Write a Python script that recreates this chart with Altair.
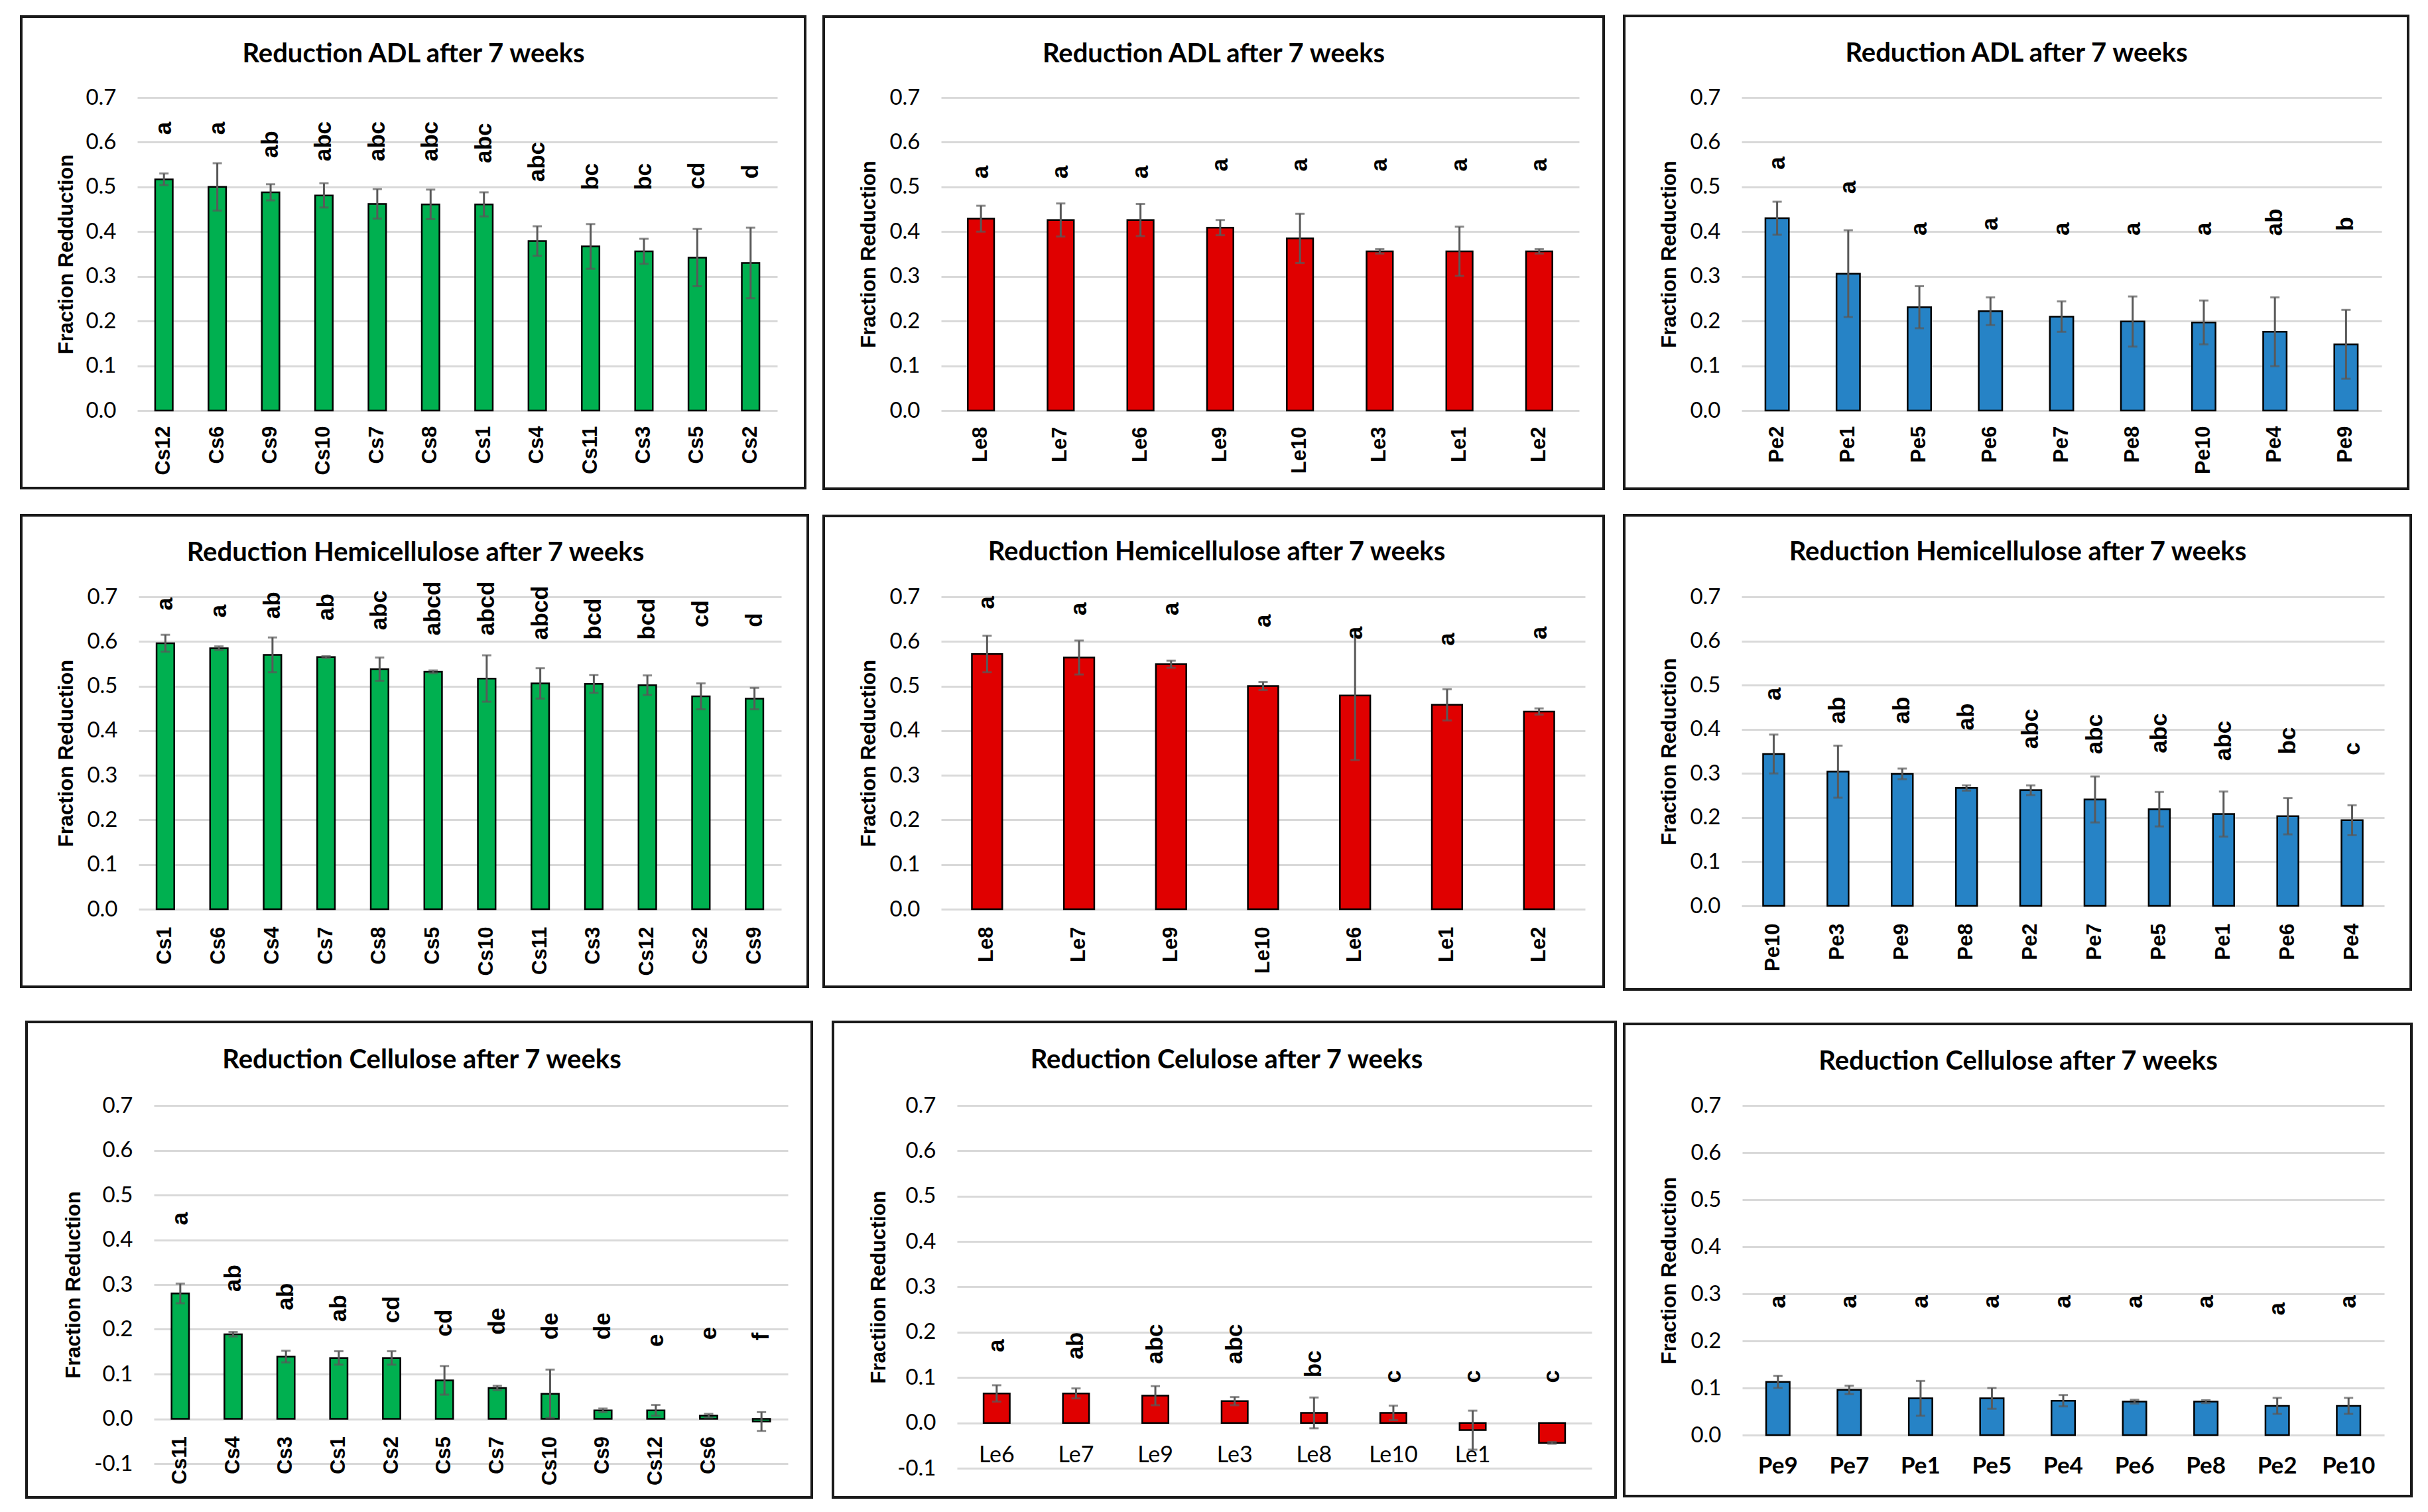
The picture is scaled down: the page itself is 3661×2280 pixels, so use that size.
import altair as alt
import pandas as pd

GREEN = "#00B050"
RED = "#E00000"
BLUE = "#2683C6"

# ---------------- data ----------------
# Row 1: ADL
adl_cs_cat = ["Cs12", "Cs6", "Cs9", "Cs10", "Cs7", "Cs8", "Cs1", "Cs4", "Cs11", "Cs3", "Cs5", "Cs2"]
adl_cs_val = [0.517, 0.500, 0.488, 0.481, 0.462, 0.461, 0.461, 0.379, 0.367, 0.356, 0.342, 0.330]
adl_cs_err = [0.013, 0.053, 0.018, 0.027, 0.033, 0.033, 0.027, 0.033, 0.050, 0.028, 0.064, 0.079]
adl_cs_let = ["a", "a", "ab", "abc", "abc", "abc", "abc", "abc", "bc", "bc", "cd", "d"]
adl_cs_pos = [0.631, 0.631, 0.595, 0.602, 0.602, 0.602, 0.598, 0.556, 0.523, 0.523, 0.525, 0.534]

adl_le_cat = ["Le8", "Le7", "Le6", "Le9", "Le10", "Le3", "Le1", "Le2"]
adl_le_val = [0.429, 0.426, 0.426, 0.409, 0.385, 0.356, 0.356, 0.356]
adl_le_err = [0.029, 0.037, 0.036, 0.017, 0.055, 0.005, 0.055, 0.005]
adl_le_let = ["a", "a", "a", "a", "a", "a", "a", "a"]
adl_le_pos = [0.533, 0.533, 0.533, 0.549, 0.549, 0.549, 0.549, 0.549]

adl_pe_cat = ["Pe2", "Pe1", "Pe5", "Pe6", "Pe7", "Pe8", "Pe10", "Pe4", "Pe9"]
adl_pe_val = [0.430, 0.306, 0.231, 0.222, 0.210, 0.199, 0.197, 0.176, 0.148]
adl_pe_err = [0.037, 0.097, 0.047, 0.031, 0.034, 0.056, 0.049, 0.077, 0.077]
adl_pe_let = ["a", "a", "a", "a", "a", "a", "a", "ab", "b"]
adl_pe_pos = [0.553, 0.499, 0.406, 0.417, 0.406, 0.406, 0.406, 0.421, 0.417]

# Row 2: Hemicellulose
hem_cs_cat = ["Cs1", "Cs6", "Cs4", "Cs7", "Cs8", "Cs5", "Cs10", "Cs11", "Cs3", "Cs12", "Cs2", "Cs9"]
hem_cs_val = [0.596, 0.585, 0.570, 0.565, 0.538, 0.532, 0.517, 0.506, 0.505, 0.502, 0.477, 0.472]
hem_cs_err = [0.019, 0.004, 0.039, 0.002, 0.026, 0.003, 0.052, 0.034, 0.020, 0.022, 0.029, 0.024]
hem_cs_let = ["a", "a", "ab", "ab", "abc", "abcd", "abcd", "abcd", "bcd", "bcd", "cd", "d"]
hem_cs_pos = [0.684, 0.668, 0.681, 0.677, 0.670, 0.674, 0.674, 0.664, 0.650, 0.650, 0.662, 0.648]

hem_le_cat = ["Le8", "Le7", "Le9", "Le10", "Le6", "Le1", "Le2"]
hem_le_val = [0.572, 0.564, 0.549, 0.500, 0.479, 0.458, 0.443]
hem_le_err = [0.041, 0.038, 0.008, 0.009, 0.145, 0.035, 0.007]
hem_le_let = ["a", "a", "a", "a", "a", "a", "a"]
hem_le_pos = [0.687, 0.673, 0.673, 0.646, 0.619, 0.605, 0.619]

hem_pe_cat = ["Pe10", "Pe3", "Pe9", "Pe8", "Pe2", "Pe7", "Pe5", "Pe1", "Pe6", "Pe4"]
hem_pe_val = [0.344, 0.304, 0.299, 0.267, 0.262, 0.241, 0.219, 0.208, 0.203, 0.194]
hem_pe_err = [0.044, 0.059, 0.012, 0.006, 0.011, 0.052, 0.039, 0.051, 0.041, 0.034]
hem_pe_let = ["a", "ab", "ab", "ab", "abc", "abc", "abc", "abc", "bc", "c"]
hem_pe_pos = [0.480, 0.443, 0.443, 0.428, 0.401, 0.389, 0.391, 0.374, 0.374, 0.356]

# Row 3: Cellulose
cel_cs_cat = ["Cs11", "Cs4", "Cs3", "Cs1", "Cs2", "Cs5", "Cs7", "Cs10", "Cs9", "Cs12", "Cs6", " "]
cel_cs_val = [0.280, 0.189, 0.139, 0.136, 0.136, 0.086, 0.069, 0.056, 0.019, 0.019, 0.007, -0.006]
cel_cs_err = [0.022, 0.005, 0.013, 0.015, 0.015, 0.032, 0.005, 0.054, 0.004, 0.012, 0.004, 0.021]
cel_cs_let = ["a", "ab", "ab", "ab", "cd", "cd", "de", "de", "de", "e", "e", "f"]
cel_cs_pos = [0.447, 0.314, 0.273, 0.247, 0.244, 0.214, 0.218, 0.207, 0.207, 0.175, 0.191, 0.184]

cel_le_cat = ["Le6", "Le7", "Le9", "Le3", "Le8", "Le10", "Le1", " "]
cel_le_val = [0.065, 0.065, 0.060, 0.048, 0.022, 0.022, -0.016, -0.044]
cel_le_err = [0.018, 0.011, 0.021, 0.009, 0.034, 0.016, 0.043, 0.002]
cel_le_let = ["a", "ab", "abc", "abc", "bc", "c", "c", "c"]
cel_le_pos = [0.170, 0.170, 0.174, 0.174, 0.130, 0.102, 0.102, 0.102]

cel_pe_cat = ["Pe9", "Pe7", "Pe1", "Pe5", "Pe4", "Pe6", "Pe8", "Pe2", "Pe10"]
cel_pe_val = [0.113, 0.096, 0.078, 0.078, 0.073, 0.071, 0.071, 0.062, 0.062]
cel_pe_err = [0.013, 0.009, 0.037, 0.022, 0.012, 0.004, 0.003, 0.017, 0.017]
cel_pe_let = ["a", "a", "a", "a", "a", "a", "a", "a", "a"]
cel_pe_pos = [0.283, 0.283, 0.283, 0.283, 0.283, 0.283, 0.283, 0.268, 0.283]

TICKS_POS = [0.0, 0.1, 0.2, 0.3, 0.4, 0.5, 0.6, 0.7]
TICKS_NEG = [-0.1, 0.0, 0.1, 0.2, 0.3, 0.4, 0.5, 0.6, 0.7]

TITLE_SHIFT = 42  # empirical correction of title placement


def spacer(w, h):
    return (
        alt.Chart(pd.DataFrame({"s": [0]}))
        .mark_point(opacity=0, size=1)
        .encode(x=alt.value(0), y=alt.value(0))
        .properties(width=w, height=h)
    )


def panel(cats, vals, errs, lets, lpos, color, title, ytitle, L):
    w, h = L["w"], L["h"]
    fl, fr, ft, fb = L["frame"]
    ymin = L["ymin"]
    df = pd.DataFrame({"cat": cats, "val": vals, "err": errs, "let": lets, "lpos": lpos})
    df["lo"] = df["val"] - df["err"]
    df["hi"] = df["val"] + df["err"]

    if L["xstyle"] == "rot":
        xaxis = alt.Axis(
            title=None, domain=False, ticks=False, labelAngle=270, labelAlign="right",
            labelBaseline="middle", labelFont="Liberation Sans", labelFontWeight="bold",
            labelFontSize=31, labelColor="black", labelPadding=L["xpad"], offset=L["xoff"],
            labelLimit=300,
        )
    else:
        xaxis = alt.Axis(
            title=None, domain=False, ticks=False, labelAngle=0, labelAlign="center",
            labelBaseline="top", labelFont="Lato", labelFontWeight=L["xweight"],
            labelFontSize=L["xsize"], labelColor="black", labelPadding=L["xpad"],
            offset=L["xoff"],
        )
    xenc = alt.X("cat:N", sort=cats, scale=alt.Scale(paddingInner=0, paddingOuter=0), axis=xaxis)

    ticks = TICKS_NEG if ymin < 0 else TICKS_POS
    yscale = alt.Scale(domain=[ymin, 0.7], nice=False, zero=False)
    yaxis = alt.Axis(
        values=ticks, labelExpr="replace(format(datum.value, '.1f'), '\u2212', '-')",
        grid=True, gridColor="#D9D9D9", gridWidth=3, domain=False, ticks=False,
        labelFont="Lato", labelFontSize=33, labelColor="black", labelPadding=32,
        title=ytitle, titleFont="Liberation Sans", titleFontWeight="bold", titleFontSize=31,
        titleColor="black", titleX=L["ytx"], titleY=h / 2, titleAngle=270,
        titleAlign="center", titleBaseline="middle",
    )

    base = alt.Chart(df)
    bars = base.mark_bar(
        width=alt.RelativeBandSize(0.33), color=color, stroke="black", strokeWidth=2.5
    ).encode(x=xenc, y=alt.Y("val:Q", scale=yscale, axis=yaxis))
    rules = base.mark_rule(color="#595959", strokeWidth=3).encode(
        x=xenc, y=alt.Y("lo:Q", scale=yscale, axis=yaxis), y2="hi:Q"
    )
    cap_lo = base.mark_tick(color="#595959", size=14, thickness=3).encode(
        x=xenc, y=alt.Y("lo:Q", scale=yscale, axis=yaxis)
    )
    cap_hi = base.mark_tick(color="#595959", size=14, thickness=3).encode(
        x=xenc, y=alt.Y("hi:Q", scale=yscale, axis=yaxis)
    )
    letters = base.mark_text(
        angle=270, align="center", baseline="middle", font="Liberation Sans",
        fontWeight="bold", fontSize=35, color="black",
    ).encode(x=xenc, y=alt.Y("lpos:Q", scale=yscale, axis=yaxis), text="let:N")
    frame = (
        alt.Chart(pd.DataFrame({"k": [0]}))
        .mark_rect(fillOpacity=0, stroke="#1a1a1a", strokeWidth=4)
        .encode(
            x=alt.value(-fl), x2=alt.value(w + fr), y=alt.value(-ft), y2=alt.value(h + fb)
        )
    )
    return alt.layer(frame, bars, rules, cap_lo, cap_hi, letters).properties(
        width=w,
        height=h,
        title=alt.TitleParams(
            text=title, font="Lato", fontWeight="bold", fontSize=40, color="black",
            anchor="middle", frame="group", dx=L["tdx"],
            offset=L["tgap"] - ft - 2 - TITLE_SHIFT,
            baseline="alphabetic",
        ),
    )


def lay(w, h, frame, tdx, tgap, ytx, xstyle="rot", xpad=23, xoff=0, ymin=0.0,
        xweight="normal", xsize=32):
    return dict(w=w, h=h, frame=frame, tdx=tdx, tgap=tgap, ytx=ytx, xstyle=xstyle,
                xpad=xpad, xoff=xoff, ymin=ymin, xweight=xweight, xsize=xsize)


T_ADL = "Reduction ADL after 7 weeks"
T_HEM = "Reduction Hemicellulose after 7 weeks"
T_CEL = "Reduction Cellulose after 7 weeks"
T_CEL2 = "Reduction Celulose after 7 weeks"

p1 = panel(adl_cs_cat, adl_cs_val, adl_cs_err, adl_cs_let, adl_cs_pos, GREEN, T_ADL,
           "Fraction Redduction", lay(965, 472, (175, 42, 122, 117), -66, 55, -107, xpad=23))
p2 = panel(adl_le_cat, adl_le_val, adl_le_err, adl_le_let, adl_le_pos, RED, T_ADL,
           "Fraction Reduction", lay(962, 472, (177, 37, 122, 118), -70, 55, -109, xpad=24))
p3 = panel(adl_pe_cat, adl_pe_val, adl_pe_err, adl_pe_let, adl_pe_pos, BLUE, T_ADL,
           "Fraction Reduction", lay(965, 472, (177, 40, 123, 118), -68, 56, -109, xpad=23))

p4 = panel(hem_cs_cat, hem_cs_val, hem_cs_err, hem_cs_let, hem_cs_pos, GREEN, T_HEM,
           "Fraction Reduction", lay(969, 471, (177, 40, 123, 117), -67, 56, -109, xpad=26))
p5 = panel(hem_le_cat, hem_le_val, hem_le_err, hem_le_let, hem_le_pos, RED, T_HEM,
           "Fraction Reduction", lay(971, 471, (177, 28, 122, 117), -70, 57, -109, xpad=26))
p6 = panel(hem_pe_cat, hem_pe_val, hem_pe_err, hem_pe_let, hem_pe_pos, BLUE, T_HEM,
           "Fraction Reduction", lay(969, 466, (177, 40, 123, 126), -68, 57, -109, xpad=26))

p7 = panel(cel_cs_cat, cel_cs_val, cel_cs_err, cel_cs_let, cel_cs_pos, GREEN, T_CEL,
           "Fraction Reduction",
           lay(956, 540, (192, 36, 126, 51), -74, 58, -121, xpad=26, xoff=-540 / 8, ymin=-0.1))
p8 = panel(cel_le_cat, cel_le_val, cel_le_err, cel_le_let, cel_le_pos, RED, T_CEL2,
           "Fractiion Reduction",
           lay(957, 547, (187, 36, 126, 44), -72, 58, -118, xstyle="flat", xpad=3, xoff=-40,
               ymin=-0.1, xweight="normal", xsize=34))
p9 = panel(cel_pe_cat, cel_pe_val, cel_pe_err, cel_pe_let, cel_pe_pos, BLUE, T_CEL,
           "Fraction Reduction",
           lay(968, 497, (178, 41, 123, 92), -68, 56, -110, xstyle="flat", xpad=29,
               xweight="bold", xsize=35))

row1 = alt.hconcat(spacer(1, 1), p1, spacer(247, 1), p2, spacer(245, 1), p3,
                   spacing=0, bounds="flush")
row2 = alt.hconcat(spacer(3, 1), p4, spacer(241, 1), p5, spacer(236, 1), p6,
                   spacing=0, bounds="flush")
row3 = alt.hconcat(spacer(26, 1), p7, spacer(255, 1), p8, spacer(227, 1), p9,
                   spacing=0, bounds="flush")

top_rows = alt.vconcat(row1, row2, spacing=36, bounds="full")
chart = (
    alt.vconcat(top_rows, row3, spacing=45, bounds="full")
    .properties(padding={"left": 22, "top": 14, "right": 5, "bottom": 5}, background="white")
    .configure_view(strokeWidth=0)
)

chart.save("out.html", embed_options={"renderer": "svg", "actions": False})
